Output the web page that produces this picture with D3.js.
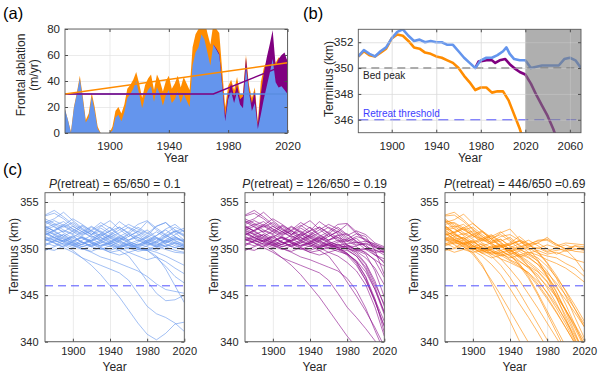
<!DOCTYPE html>
<html>
<head>
<meta charset="utf-8">
<script src="https://cdn.jsdelivr.net/npm/d3@7"></script>
<style>
  body { margin: 0; background: #fff; }
  text { font-family: "Liberation Sans", Arial, Helvetica, sans-serif; }
</style>
</head>
<body>
<div id="chart"></div>
<script>
// ---- (a) frontal ablation, m/yr ----
const ablYears = [1870,1872,1874,1876,1878,1880,1882,1884,1886,1888,1890,1892,1894,1896,1898,1900,1902,1904,1906,1908,
  1910,1912,1914,1916,1918,1920,1922,1924,1926,1928,1930,1932,1934,1936,1938,1940,1942,1944,1946,1948,
  1950,1952,1954,1956,1958,1960,1962,1964,1966,1968,1970,1972,1974,1976,1978,1980,1982,1984,1986,1988,
  1990,1992,1994,1996,1998,2000,2002,2004,2006,2008,2010,2012,2014,2016,2018,2020];
const ablBlue = [18,10,0,19,30,42,26,8,12,28,17,3,0,0,0,0,2,12,14,9,
  16,27,30,34,40,30,19,28,33,36,24,35,30,21,29,33,23,26,32,23,
  30,25,20,52,62,66,76,72,62,52,68,64,60,36,9,26,32,23,32,22,
  19,51,32,17,23,3,14,26,36,46,57,39,35,36,33,30];
const ablOrange = [18,10,1,20,31,44,28,10,15,31,20,5,0,0,0,0,5,17,20,15,
  22,34,37,41,47,38,27,37,42,45,33,45,40,32,40,44,34,38,44,35,
  43,38,33,66,76,80,91,87,77,68,84,80,77,48,20,36,41,33,43,30,
  30,60,37,27,35,8,39,50,55,57,60,54,58,57,58,56];
const ablYearsLate = [1970,1972,1974,1976,1978,1980,1982,1984,1986,1988,1990,1992,1994,1996,1998,2000,2002,2004,2006,2008,2010,2012,2014,2016,2018,2020];
const ablPurple = [68,65,61,38,13,30,38,28,37,26,28,58,33,23,32,6,30,46,58,68,79,52,57,60,62,55];
// trend lines
const trendBlueYears = [1870, 2020];
const trendBlue = [30, 30];
const trendPurpleYears = [1870, 1970, 2020];
const trendPurple = [30, 30, 53];
const trendOrangeYears = [1870, 2020];
const trendOrange = [30, 54];

// ---- (b) terminus position, km ----
const termBlueYears = [1870,1875,1880,1885,1890,1895,1900,1905,1910,1915,1920,1925,1930,1935,1940,1945,1950,1955,1960,1965,
  1970,1975,1980,1985,1990,1995,2000,2003,2006,2010,2015,2020,2025,2030,2035,2040,2045,2050,2055,2060,2065,2070];
const termBlue = [350.9,351.4,351.1,350.9,351.3,351.6,352.3,352.8,353.0,352.5,352.1,352.2,352.0,352.1,352.0,352.0,351.8,351.8,351.3,350.8,
  350.4,350.0,350.6,350.8,350.8,351.0,351.3,351.6,351.1,350.7,350.6,350.6,350.0,350.1,350.2,350.2,350.2,350.2,350.7,350.8,350.6,350.0];
const termOrangeYears = [1870,1875,1880,1885,1890,1895,1900,1905,1910,1915,1920,1925,1930,1935,1940,1945,1950,1955,1960,1965,
  1970,1975,1980,1985,1990,1995,2000,2005,2010,2015,2018];
const termOrange = [350.9,351.3,351.0,350.9,351.2,351.5,352.3,352.6,352.5,352.1,351.6,351.5,351.2,351.1,350.9,350.8,350.6,350.4,350.0,349.4,
  348.9,348.3,348.5,348.5,348.1,348.2,348.2,347.5,346.4,345.3,344.5];
const termPurpleYears = [1975,1978,1985,1990,1993,1997,2002,2006,2010,2015,2020,2025,2030,2035,2040,2045,2048];
const termPurple = [350.0,350.5,350.6,350.6,350.4,350.6,350.7,350.3,350.0,349.7,349.5,348.8,347.9,347.1,346.3,345.3,344.6];
const bedPeak = 350;
const retreatThreshold = 346;

// ---- (c) ensembles, km ----
const ensYears = [1870,1880,1890,1900,1910,1920,1930,1940,1950,1960,1970,1980,1990,2000,2010,2020];
const ensBlue = [
  [353.5,353.8,353.2,352.4,351.8,351.2,351.6,352.3,351.5,350.9,351.4,352.0,351.2,350.6,351.0,350.8],
  [352.8,353.2,353.9,353.0,352.2,351.5,352.4,353.0,352.1,351.3,351.8,352.9,352.0,351.4,351.9,351.3],
  [352.2,352.6,352.0,351.6,352.4,351.7,351.0,351.5,352.3,351.6,350.8,351.3,352.4,352.8,351.7,350.9],
  [351.8,351.2,350.8,351.4,350.6,350.9,351.6,350.8,350.3,350.9,351.5,350.7,350.2,350.8,351.3,350.6],
  [351.2,350.9,351.5,350.7,350.4,351.1,350.5,350.2,350.8,350.4,350.1,350.6,351.1,350.5,350.1,350.4],
  [350.6,350.3,350.9,351.3,350.7,350.2,350.6,351.2,350.6,350.1,350.5,350.2,349.8,350.3,350.7,350.2],
  [353.0,352.5,352.9,352.1,351.5,352.0,352.8,352.2,351.4,350.9,351.2,350.6,350.3,350.9,350.5,350.0],
  [352.5,351.8,351.3,351.9,352.5,351.9,351.2,350.7,351.3,351.8,352.6,353.0,352.2,351.5,350.8,350.5],
  [351.5,351.9,352.4,351.8,351.2,350.8,351.3,351.9,352.9,352.2,351.6,351.0,350.6,351.2,351.8,352.2],
  [350.9,351.4,350.8,350.4,350.9,351.4,350.8,350.4,350.0,350.5,350.9,350.4,350.8,351.4,350.9,350.3],
  [352.0,352.4,351.7,351.1,350.7,350.3,350.8,351.4,350.9,350.3,349.9,350.3,350.7,350.2,349.8,349.6],
  [353.2,352.7,352.3,352.8,352.1,351.5,351.9,351.3,350.8,351.3,351.9,351.4,350.9,351.6,352.3,351.8],
  [351.0,350.6,350.2,350.7,351.2,350.6,350.1,349.8,350.2,350.6,350.1,349.9,350.3,349.9,349.6,349.5],
  [352.6,353.0,352.5,351.9,351.4,351.9,352.5,351.8,351.2,350.7,350.4,350.8,351.4,352.0,351.3,350.7],
  [350.3,350.8,351.2,350.6,350.2,350.5,350.9,350.5,350.9,351.5,351.0,350.5,350.2,350.6,351.1,350.8],
  [351.6,351.1,350.7,351.2,351.8,352.4,351.8,351.1,350.7,350.3,350.7,351.2,351.8,351.2,350.6,350.2],
  [349.8,350.2,350.6,350.3,349.9,350.3,350.7,350.4,350.1,350.4,350.0,349.8,350.1,350.4,350.1,349.9],
  [352.3,351.9,352.5,353.2,352.6,351.9,351.4,351.9,352.3,351.7,351.2,350.8,351.4,352.1,352.6,351.8],
  [353.6,354.1,353.4,352.6,352.0,351.5,352.2,351.6,351.0,351.6,352.3,351.7,351.1,350.7,351.2,350.9],
  [350.0,349.8,350.3,350.8,351.3,350.8,350.2,350.6,351.1,350.6,350.2,350.7,351.2,350.8,350.3,350.1],
  [351.4,352.0,352.6,352.1,351.6,352.3,351.7,351.2,351.7,352.3,351.8,351.2,350.7,351.3,351.9,351.4],
  [352.9,352.3,351.8,352.4,351.8,351.3,350.9,351.4,352.0,352.6,352.1,351.6,352.4,352.8,352.0,351.5],
  [350.4,350.9,350.5,350.1,350.5,350.9,351.5,350.9,350.4,350.0,350.4,350.9,350.5,350.2,350.6,350.4],
  [351.9,351.5,351.9,351.5,351.1,350.6,350.3,350.7,351.2,350.8,350.3,350.7,350.4,350.9,351.5,352.0],
  [351.0,350.6,350.1,349.6,349.0,348.2,347.2,346.0,344.8,343.4,342.0,340.8,340.2,340.9,341.9,342.1],
  [351.3,350.9,350.4,349.8,349.0,348.6,348.2,347.8,347.4,346.6,345.2,343.8,343.0,342.6,342.0,341.1],
  [352.0,351.5,351.0,350.6,350.2,350.5,350.0,349.6,349.8,349.2,347.9,346.5,345.2,344.4,344.5,345.0],
  [351.7,351.2,351.5,350.9,350.4,350.8,351.2,350.6,350.2,350.5,350.1,349.8,349.2,347.8,346.0,344.2],
  [352.4,351.9,351.3,350.8,351.2,350.7,350.3,350.6,350.1,349.6,349.9,349.8,349.0,348.1,347.0,346.3],
  [350.8,351.2,350.7,350.3,350.7,350.2,349.9,350.3,349.8,350.1,349.7,349.9,349.6,349.2,348.7,348.2],
  [351.1,350.7,350.9,350.4,350.0,349.7,350.1,349.6,349.3,349.6,349.2,348.8,349.1,348.6,347.9,347.3],
  [352.2,351.6,351.1,350.5,350.0,349.6,349.1,348.8,348.4,348.0,347.6,347.0,346.2,345.6,345.4,345.2]
];
const ensPurple = [
  [353.5,353.8,353.2,352.4,351.8,351.2,351.6,352.3,351.5,350.9,351.4,351.6,350.7,349.9,349.8,349.6],
  [352.8,353.2,353.9,353.0,352.2,351.5,352.4,353.0,352.1,351.3,351.8,352.6,351.6,350.8,350.5,349.9],
  [352.2,352.6,352.0,351.6,352.4,351.7,351.0,351.5,352.3,351.6,350.8,351.0,351.6,351.3,349.8,347.2],
  [351.8,351.2,350.8,351.4,350.6,350.9,351.6,350.8,350.3,350.9,351.5,350.4,349.8,349.4,347.6,344.8],
  [351.2,350.9,351.5,350.7,350.4,351.1,350.5,350.2,350.8,350.4,350.1,350.3,350.2,349.5,348.8,348.1],
  [350.6,350.3,350.9,351.3,350.7,350.2,350.6,351.2,350.6,350.1,350.5,349.9,349.2,347.8,345.6,342.9],
  [353.0,352.5,352.9,352.1,351.5,352.0,352.8,352.2,351.4,350.9,351.2,350.4,349.9,350.0,349.6,349.7],
  [352.5,351.8,351.3,351.9,352.5,351.9,351.2,350.7,351.3,351.8,352.6,352.7,351.8,350.9,350.2,350.0],
  [351.5,351.9,352.4,351.8,351.2,350.8,351.3,351.9,352.9,352.2,351.6,350.8,350.3,350.6,350.2,349.5],
  [350.9,351.4,350.8,350.4,350.9,351.4,350.8,350.4,350.0,350.5,350.9,350.1,349.6,348.4,346.5,343.8],
  [352.0,352.4,351.7,351.1,350.7,350.3,350.8,351.4,350.9,350.3,349.9,349.8,349.2,348.0,345.9,343.1],
  [353.2,352.7,352.3,352.8,352.1,351.5,351.9,351.3,350.8,351.3,351.9,351.2,350.6,350.8,350.3,349.8],
  [351.0,350.6,350.2,350.7,351.2,350.6,350.1,349.8,350.2,350.6,350.1,349.5,348.6,346.9,344.3,341.6],
  [352.6,353.0,352.5,351.9,351.4,351.9,352.5,351.8,351.2,350.7,350.4,350.5,350.7,350.4,349.5,348.4],
  [350.3,350.8,351.2,350.6,350.2,350.5,350.9,350.5,350.9,351.5,351.0,350.3,349.9,349.6,348.7,346.9],
  [351.6,351.1,350.7,351.2,351.8,352.4,351.8,351.1,350.7,350.3,350.7,350.8,351.1,350.2,349.3,348.9],
  [349.8,350.2,350.6,350.3,349.9,350.3,350.7,350.4,350.1,350.4,350.0,349.4,348.7,347.5,345.6,343.2],
  [352.3,351.9,352.5,353.2,352.6,351.9,351.4,351.9,352.3,351.7,351.2,350.8,351.3,351.0,350.4,350.1],
  [353.6,354.1,353.4,352.6,352.0,351.5,352.2,351.6,351.0,351.6,352.3,351.5,350.8,350.2,349.9,349.3],
  [350.0,349.8,350.3,350.8,351.3,350.8,350.2,350.6,351.1,350.6,350.2,350.0,349.7,349.0,347.9,346.1],
  [351.4,352.0,352.6,352.1,351.6,352.3,351.7,351.2,351.7,352.3,351.8,351.0,350.4,350.5,350.1,349.7],
  [352.9,352.3,351.8,352.4,351.8,351.3,350.9,351.4,352.0,352.6,352.1,351.4,351.9,351.5,350.6,350.2],
  [350.4,350.9,350.5,350.1,350.5,350.9,351.5,350.9,350.4,350.0,350.4,350.1,349.4,348.3,346.2,344.0],
  [351.9,351.5,351.9,351.5,351.1,350.6,350.3,350.7,351.2,350.8,350.3,350.2,349.8,349.9,349.3,348.6],
  [351.0,350.6,350.1,349.6,349.0,348.2,347.2,346.0,344.8,343.4,342.0,340.6,339.4,338.0,336.5,335.0],
  [351.3,350.9,350.4,349.8,349.0,348.6,348.2,347.8,347.4,346.6,345.2,343.7,342.6,341.4,340.1,338.6],
  [352.0,351.5,351.0,350.6,350.2,350.5,350.0,349.6,349.8,349.2,347.9,346.4,344.9,343.3,341.5,339.5],
  [351.7,351.2,351.5,350.9,350.4,350.8,351.2,350.6,350.2,350.5,350.1,349.5,348.4,346.6,344.3,341.7],
  [352.4,351.9,351.3,350.8,351.2,350.7,350.3,350.6,350.1,349.6,349.9,349.3,348.2,346.6,344.5,342.2],
  [350.8,351.2,350.7,350.3,350.7,350.2,349.9,350.3,349.8,350.1,349.7,349.4,348.6,347.0,344.6,341.0],
  [351.1,350.7,350.9,350.4,350.0,349.7,350.1,349.6,349.3,349.6,349.2,348.5,347.6,346.1,343.7,340.6],
  [352.2,351.6,351.1,350.5,350.0,349.6,349.1,348.8,348.4,348.0,347.6,346.8,345.5,343.6,341.2,338.9]
];
const ensOrange = [
  [353.5,353.6,352.9,352.0,351.3,350.6,350.8,351.2,350.4,349.6,348.6,347.2,345.4,343.2,341.0,338.6],
  [352.8,353.1,353.7,352.7,351.8,351.0,351.7,352.1,351.0,350.4,350.6,351.2,350.4,350.0,350.3,350.2],
  [352.2,352.4,351.7,351.2,351.8,351.0,350.2,350.4,350.9,350.0,348.8,347.0,344.8,342.5,340.2,338.0],
  [351.8,351.0,350.5,350.9,350.0,350.1,350.4,349.4,348.2,346.8,345.0,343.0,341.0,339.0,337.0,335.0],
  [351.2,350.7,351.2,350.3,349.8,350.3,349.6,348.8,348.3,347.2,346.0,344.6,343.1,341.5,339.8,338.0],
  [350.6,350.1,350.6,350.8,350.1,349.4,349.5,349.8,349.0,348.1,347.5,346.4,344.7,342.8,340.8,338.8],
  [353.0,352.3,352.6,351.7,351.0,351.3,351.8,351.0,350.3,349.9,350.1,349.6,349.8,350.0,349.7,349.6],
  [352.5,351.6,351.0,351.5,351.9,351.2,350.3,349.7,350.1,350.4,350.9,351.0,350.5,349.9,348.9,347.5],
  [351.5,351.7,352.1,351.4,350.6,350.1,350.3,350.6,351.3,350.5,349.6,348.4,346.8,344.9,342.6,340.4],
  [350.9,351.2,350.5,349.9,350.3,350.6,349.8,349.2,348.6,348.0,347.2,345.8,344.1,342.2,340.3,338.4],
  [352.0,352.2,351.4,350.7,350.1,349.5,349.6,349.9,349.2,348.1,346.7,345.2,343.6,341.9,340.0,338.0],
  [353.2,352.5,352.0,352.3,351.5,350.8,351.0,350.3,349.8,350.2,350.6,350.0,349.4,349.8,350.3,349.9],
  [351.0,350.4,349.9,349.6,348.3,346.3,344.3,342.2,340.1,338.0,336.0,334.0,332.0,330.0,328.0,326.0],
  [352.6,352.8,352.2,351.4,350.8,351.1,351.5,350.8,350.0,349.3,348.7,347.6,346.0,344.0,341.8,339.5],
  [350.3,350.6,350.9,350.1,349.5,349.6,349.8,349.2,348.4,347.0,345.2,343.3,341.4,339.5,337.6,335.7],
  [351.6,350.9,350.4,350.7,351.1,351.5,350.7,349.9,349.2,348.4,347.6,346.5,345.0,343.4,341.6,339.8],
  [349.8,350.0,350.3,349.8,349.2,348.3,347.2,345.7,344.1,342.6,341.0,339.3,337.6,336.0,334.0,332.0],
  [352.3,351.7,352.2,352.7,351.9,351.0,350.3,350.5,350.8,350.1,349.5,349.2,349.0,348.4,347.9,347.0],
  [353.6,353.9,353.1,352.1,351.3,350.6,351.0,350.2,349.4,349.0,348.3,347.0,345.3,343.4,341.4,339.4],
  [350.0,349.6,349.9,350.2,350.5,349.8,348.9,347.8,346.6,345.1,343.6,342.0,340.4,338.8,337.0,335.0],
  [351.4,351.8,352.3,351.6,350.9,351.4,350.6,349.9,350.2,350.5,349.7,348.5,347.1,345.4,343.5,341.6],
  [352.9,352.1,351.5,351.9,351.1,350.4,349.8,350.1,350.5,350.9,350.3,349.7,350.1,350.4,350.0,349.8],
  [350.4,350.7,350.2,349.6,349.8,350.0,350.3,349.5,348.7,347.9,347.0,346.0,344.8,343.4,341.8,340.1],
  [351.9,351.3,351.6,351.0,350.4,349.7,349.2,349.4,349.7,349.1,348.3,347.4,346.3,345.0,343.5,341.9],
  [352.4,351.7,351.0,350.3,349.9,349.2,348.2,346.9,345.3,343.6,341.9,340.2,338.5,337.0,335.0,333.0],
  [351.3,350.8,350.2,349.4,348.1,346.6,345.0,343.3,341.6,339.9,338.0,336.0,334.0,332.0,330.0,328.0],
  [351.1,350.5,350.6,350.0,349.5,349.0,349.3,348.7,348.1,347.4,346.2,344.8,343.2,341.5,339.8,338.0],
  [352.0,351.3,350.7,350.2,349.7,349.9,349.4,349.0,349.3,348.6,347.8,346.9,345.8,344.5,343.1,341.6],
  [350.8,351.0,350.4,349.9,350.2,349.7,349.3,349.6,349.1,349.4,349.0,348.1,346.9,345.5,343.9,342.2],
  [352.2,351.5,350.9,350.3,349.8,349.4,348.9,348.5,348.0,347.4,346.5,345.3,343.9,342.3,340.6,338.9],
  [351.7,351.0,351.2,350.5,349.9,350.2,350.5,349.8,349.3,349.6,349.3,348.8,348.4,347.9,347.2,346.4],
  [350.5,350.9,350.6,350.0,349.6,349.9,350.2,349.7,349.9,349.5,349.8,349.4,349.6,349.2,348.8,348.5],
  [353.0,352.7,352.0,351.4,351.0,350.7,351.3,351.5,350.9,350.5,350.8,350.9,350.3,350.6,350.5,350.4],
  [351.0,351.5,351.1,350.6,350.9,350.5,350.1,350.4,350.8,350.3,350.0,350.4,350.1,349.7,349.9,350.1]
];
const ensTitles = [["65/650", "0.1", " = "], ["126/650", "0.19", " = "], ["446/650", "0.69", " ="]];

// colours
const cBlue = "#6495ed", cOrange = "#ff8c00", cPurple = "#800080";

const svg = d3.select("#chart").append("svg").attr("width", 600).attr("height", 376);

// MATLAB-like axes: grid, clipped data layer, box with inward ticks
function makePanel(id, box, xDom, yDom, xTicks, yTicks, fs) {
  const x = d3.scaleLinear().domain(xDom).range([box.x0, box.x1]);
  const y = d3.scaleLinear().domain(yDom).range([box.y1, box.y0]);
  const w = box.x1 - box.x0, h = box.y1 - box.y0;
  const root = svg.append("g");
  svg.append("clipPath").attr("id", id).append("rect")
    .attr("x", box.x0).attr("y", box.y0).attr("width", w).attr("height", h);
  const gridG = root.append("g");
  const data = root.append("g").attr("clip-path", `url(#${id})`);
  const over = root.append("g");
  const axG = root.append("g");

  const grid = (g, col, op) => {
    g.append("g").attr("transform", `translate(0,${box.y1})`)
      .call(d3.axisBottom(x).tickValues(xTicks).tickSize(-h).tickFormat(""));
    g.append("g").attr("transform", `translate(${box.x0},0)`)
      .call(d3.axisLeft(y).tickValues(yTicks).tickSize(-w).tickFormat(""));
    g.selectAll(".domain").remove();
    g.selectAll("line").attr("stroke", col).attr("stroke-width", 0.7).attr("opacity", op);
  };
  grid(gridG, "#e2e2e2", 1);

  const finish = (padX, padY) => {
    const tick = (axis, tr, labels, pad) => {
      const g = axG.append("g").attr("transform", tr)
        .call(axis.tickSize(-3).tickSizeOuter(0).tickPadding(pad || 3)
          .tickFormat(labels ? d3.format("d") : () => ""));
      g.select(".domain").remove();
      g.selectAll("line").attr("stroke", "#4d4d4d");
      g.selectAll("text").attr("fill", "#262626").style("font-size", fs + "px")
        .style("font-family", "'Liberation Sans', Arial, sans-serif");
    };
    tick(d3.axisBottom(x).tickValues(xTicks), `translate(0,${box.y1})`, true, padX);
    tick(d3.axisLeft(y).tickValues(yTicks), `translate(${box.x0},0)`, true, padY);
    tick(d3.axisTop(x).tickValues(xTicks), `translate(0,${box.y0})`, false);
    tick(d3.axisRight(y).tickValues(yTicks), `translate(${box.x1},0)`, false);
    axG.append("rect").attr("x", box.x0).attr("y", box.y0).attr("width", w).attr("height", h)
      .attr("fill", "none").attr("stroke", "#595959").attr("stroke-width", 0.9);
  };
  return { x, y, data, over, grid, finish, box };
}

function label(t, x, y, size, opt = {}) {
  const el = svg.append("text").attr("x", x).attr("y", y).style("font-size", size + "px")
    .attr("fill", opt.fill || "#262626").attr("text-anchor", opt.anchor || "middle").text(t);
  if (opt.rot) el.attr("transform", `rotate(-90,${x},${y})`);
  return el;
}

// ---------- (a) ----------
const pa = makePanel("clipA", { x0: 65, x1: 287.5, y0: 29, y1: 133 }, [1870, 2020], [0, 80],
  [1900, 1940, 1980, 2020], [0, 20, 40, 60, 80], 11.5);
const area = (yrs, vals) => d3.area().x((d, i) => pa.x(yrs[i])).y0(pa.y(0)).y1((d) => pa.y(d))(vals);
pa.data.append("path").attr("d", area(ablYears, ablOrange)).attr("fill", cOrange);
pa.data.append("path").attr("d", area(ablYearsLate, ablPurple)).attr("fill", cPurple);
pa.data.append("path").attr("d", area(ablYears, ablBlue)).attr("fill", cBlue);
const tline = (yrs, vals) => d3.line().x((d, i) => pa.x(yrs[i])).y((d) => pa.y(d))(vals);
pa.data.append("path").attr("d", tline(trendBlueYears, trendBlue)).attr("fill", "none")
  .attr("stroke", "#5a8ee0").attr("stroke-width", 1.6);
pa.data.append("path").attr("d", tline(trendPurpleYears, trendPurple)).attr("fill", "none")
  .attr("stroke", cPurple).attr("stroke-width", 1.4);
pa.data.append("path").attr("d", tline(trendOrangeYears, trendOrange)).attr("fill", "none")
  .attr("stroke", cOrange).attr("stroke-width", 1.4);
pa.finish(9, 5);
label("(a)", 3, 19, 16.5, { anchor: "start", fill: "#000" });
label("Frontal ablation", 24.5, 75, 12, { rot: true });
label("(m/yr)", 38, 75, 12, { rot: true });
label("Year", 176, 162, 12);

// ---------- (b) ----------
const pb = makePanel("clipB", { x0: 358.3, x1: 581, y0: 29.3, y1: 132.7 }, [1870, 2070], [345, 353],
  [1900, 1940, 1980, 2020, 2060], [346, 348, 350, 352], 11.5);
const bline = (yrs, vals) => d3.line().x((d, i) => pb.x(yrs[i])).y((d) => pb.y(d))(vals);
pb.data.append("line").attr("x1", pb.x(1870)).attr("x2", pb.x(2070)).attr("y1", pb.y(bedPeak)).attr("y2", pb.y(bedPeak))
  .attr("stroke", "#444").attr("stroke-width", 1).attr("stroke-dasharray", "8,5");
pb.data.append("line").attr("x1", pb.x(1870)).attr("x2", pb.x(2070)).attr("y1", pb.y(retreatThreshold)).attr("y2", pb.y(retreatThreshold))
  .attr("stroke", "#7b7bff").attr("stroke-width", 1.4).attr("stroke-dasharray", "10,6");
pb.data.append("path").attr("d", bline(termOrangeYears, termOrange)).attr("fill", "none")
  .attr("stroke", cOrange).attr("stroke-width", 2.6).attr("stroke-linejoin", "round");
pb.data.append("path").attr("d", bline(termPurpleYears, termPurple)).attr("fill", "none")
  .attr("stroke", cPurple).attr("stroke-width", 2.6).attr("stroke-linejoin", "round");
pb.data.append("path").attr("d", bline(termBlueYears, termBlue)).attr("fill", "none")
  .attr("stroke", cBlue).attr("stroke-width", 2.6).attr("stroke-linejoin", "round");
// future shading
pb.over.append("rect").attr("x", pb.x(2020)).attr("y", pb.box.y0)
  .attr("width", pb.x(2070) - pb.x(2020)).attr("height", pb.box.y1 - pb.box.y0)
  .attr("fill", "#7a7a7a").attr("opacity", 0.6);
pb.grid(pb.over, "#dcdcdc", 0.6);
pb.finish(9, 5);
label("(b)", 303, 19, 16.5, { anchor: "start", fill: "#000" });
label("Terminus (km)", 332.5, 79, 12, { rot: true });
label("Year", 470, 162, 12);
label("Bed peak", 363, 79, 10, { anchor: "start", fill: "#222" });
label("Retreat threshold", 363, 117, 10, { anchor: "start", fill: "#3d3dff" });

// ---------- (c) ----------
const ensSets = [ensBlue, ensPurple, ensOrange];
const ensCols = [cBlue, "#8a0a8a", "#ff8c00"];
const ensX0 = [45, 245, 445];
ensSets.forEach((set, k) => {
  const p = makePanel("clipC" + k, { x0: ensX0[k], x1: ensX0[k] + 139.3, y0: 192.7, y1: 341.7 }, [1870, 2020], [340, 356],
    [1900, 1940, 1980, 2020], [340, 345, 350, 355], 11);
  const line = d3.line().x((d, i) => p.x(ensYears[i])).y((d) => p.y(d));
  p.data.selectAll(".ens").data(set).enter().append("path")
    .attr("d", line).attr("fill", "none").attr("stroke", ensCols[k])
    .attr("stroke-width", 0.8).attr("opacity", 0.75);
  p.data.append("line").attr("x1", p.x(1870)).attr("x2", p.x(2020)).attr("y1", p.y(bedPeak)).attr("y2", p.y(bedPeak))
    .attr("stroke", "#333").attr("stroke-width", 1).attr("stroke-dasharray", "7,5");
  p.data.append("line").attr("x1", p.x(1870)).attr("x2", p.x(2020)).attr("y1", p.y(retreatThreshold)).attr("y2", p.y(retreatThreshold))
    .attr("stroke", "#5050ff").attr("stroke-width", 1).attr("stroke-dasharray", "8,5");
  p.finish(5.5, 6.5);
  const cx = ensX0[k] + 139.3 / 2;
  const t = label("", cx, 187.5, 12);
  t.append("tspan").style("font-style", "italic").text("P");
  t.append("tspan").text(`(retreat) = ${ensTitles[k][0]}${ensTitles[k][2]}${ensTitles[k][1]}`);
  label("Terminus (km)", ensX0[k] - 27.5, 256, 12, { rot: true });
  label("Year", cx, 371, 12);
});
label("(c)", 3, 174.5, 16.5, { anchor: "start", fill: "#000" });
</script>
</body>
</html>
